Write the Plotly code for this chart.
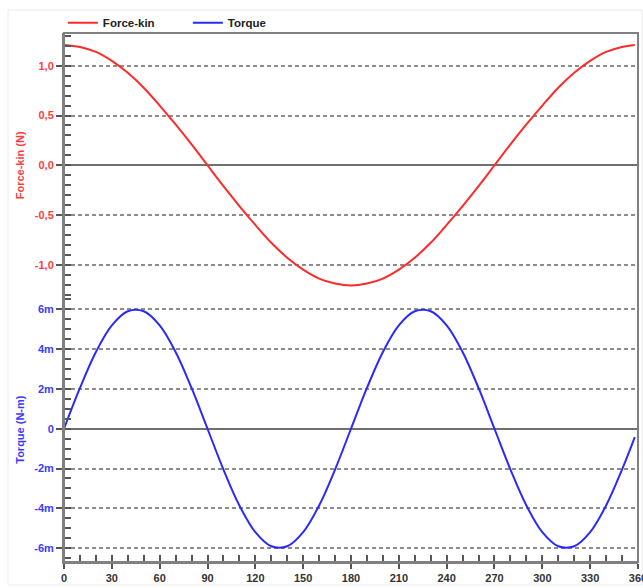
import plotly.graph_objects as go

# ---- data ----
angle_deg = [0, 10, 20, 30, 40, 50, 60, 70, 80, 90, 100, 110, 120, 130, 140, 150, 160, 170, 180,
             190, 200, 210, 220, 230, 240, 250, 260, 270, 280, 290, 300, 310, 320, 330, 340, 350, 358]
force_kin = [1.21, 1.19, 1.14, 1.05, 0.93, 0.78, 0.60, 0.41, 0.21, 0.00, -0.21, -0.41, -0.60, -0.78,
             -0.93, -1.05, -1.14, -1.19, -1.21, -1.19, -1.14, -1.05, -0.93, -0.78, -0.60, -0.41,
             -0.21, 0.00, 0.21, 0.41, 0.60, 0.78, 0.93, 1.05, 1.14, 1.19, 1.21]
torque = [0.0, 0.00205, 0.00386, 0.00520, 0.00591, 0.00591, 0.00520, 0.00386, 0.00205, 0.0,
          -0.00205, -0.00386, -0.00520, -0.00591, -0.00591, -0.00520, -0.00386, -0.00205, 0.0,
          0.00205, 0.00386, 0.00520, 0.00591, 0.00591, 0.00520, 0.00386, 0.00205, 0.0,
          -0.00205, -0.00386, -0.00520, -0.00591, -0.00591, -0.00520, -0.00386, -0.00205, -0.00042]

force_tickvals = [-1.0, -0.5, 0.0, 0.5, 1.0]
force_ticktext = ["-1,0", "-0,5", "0,0", "0,5", "1,0"]
torque_tickvals = [-0.006, -0.004, -0.002, 0.0, 0.002, 0.004, 0.006]
torque_ticktext = ["-6m", "-4m", "-2m", "0", "2m", "4m", "6m"]
x_tickvals = [0, 30, 60, 90, 120, 150, 180, 210, 240, 270, 300, 330, 360]

RED = "#ff2a2a"
BLUE = "#2a2aff"
RED_TXT = "#ff3b3b"
BLUE_TXT = "#3b3bff"
GRID = "#8c8c8c"
AXIS = "#808080"
FONT = "Liberation Sans, Arial, sans-serif"

fig = go.Figure()
fig.add_trace(go.Scatter(x=angle_deg, y=force_kin, name="Force-kin", mode="lines",
                         line=dict(color=RED, width=2, shape="spline"), yaxis="y"))
fig.add_trace(go.Scatter(x=angle_deg, y=torque, name="Torque", mode="lines",
                         line=dict(color=BLUE, width=2, shape="spline"), yaxis="y2"))

common_y = dict(
    showgrid=True, gridcolor=GRID, griddash="4px,3px", gridwidth=1.5,
    zeroline=True, zerolinecolor="#707070", zerolinewidth=1.5,
    showline=True, linecolor=AXIS, linewidth=2,
    ticks="outside", ticklen=6, tickwidth=1.5, tickcolor="#555",
    anchor="x", automargin=False,
)

fig.update_layout(
    width=643, height=588,
    margin=dict(l=64, r=5, t=33, b=26),
    paper_bgcolor="white", plot_bgcolor="white",
    font=dict(family=FONT, size=11, color="#333"),
    showlegend=True,
    legend=dict(orientation="h", x=-0.002, xanchor="left", y=0.992, yanchor="bottom",
                font=dict(family=FONT, size=11.5, color="#222", weight="bold"),
                bgcolor="rgba(0,0,0,0)", entrywidth=80, entrywidthmode="pixels",
                tracegroupgap=0),
    xaxis=dict(range=[-0.01, 360.01], tickvals=x_tickvals, showgrid=False, zeroline=False,
               showline=True, linecolor=AXIS, linewidth=2,
               ticks="outside", ticklen=5, tickwidth=1.5, tickcolor="#555",
               ticklabeloverflow="allow", automargin=False,
               tickfont=dict(family=FONT, size=11, color="#333", weight="bold"),
               minor=dict(dtick=10, tick0=0, ticks="inside", ticklen=7, tickwidth=1.5,
                          tickcolor="#555", showgrid=False),
               anchor="y2"),
    yaxis=dict(domain=[0.5, 1.0], range=[-1.33, 1.33],
               tickvals=force_tickvals, ticktext=force_ticktext,
               tickfont=dict(family=FONT, size=11, color=RED_TXT, weight="bold"),
               minor=dict(dtick=0.1, tick0=0, ticks="inside", ticklen=7, tickwidth=1.5,
                          tickcolor="#555", showgrid=False),
               **common_y),
    yaxis2=dict(domain=[0.0, 0.5], range=[-0.0067, 0.0066],
                tickvals=torque_tickvals, ticktext=torque_ticktext,
                tickfont=dict(family=FONT, size=11, color=BLUE_TXT, weight="bold"),
                minor=dict(dtick=0.0005, tick0=0, ticks="inside", ticklen=7, tickwidth=1.5,
                           tickcolor="#555", showgrid=False),
                **common_y),
)

# axis titles
fig.add_annotation(text="Force-kin (N)", xref="paper", yref="paper",
                   x=(20 - 64) / 574, y=0.75, textangle=-90, showarrow=False,
                   xanchor="center", yanchor="middle",
                   font=dict(family=FONT, size=11, color=RED_TXT, weight="bold"))
fig.add_annotation(text="Torque (N-m)", xref="paper", yref="paper",
                   x=(20 - 64) / 574, y=0.25, textangle=-90, showarrow=False,
                   xanchor="center", yanchor="middle",
                   font=dict(family=FONT, size=11, color=BLUE_TXT, weight="bold"))

# plot frame
fig.add_shape(type="rect", xref="paper", yref="paper", x0=0, x1=1, y0=0, y1=1,
              line=dict(color=AXIS, width=2), layer="above")
# faint outer frame
fig.add_shape(type="rect", xref="paper", yref="paper",
              x0=(8 - 64) / 574, x1=(642 - 64) / 574, y0=(562 - 585) / 529, y1=(562 - 10) / 529,
              line=dict(color="#ececec", width=1), layer="below")

fig.write_html("out.html")
